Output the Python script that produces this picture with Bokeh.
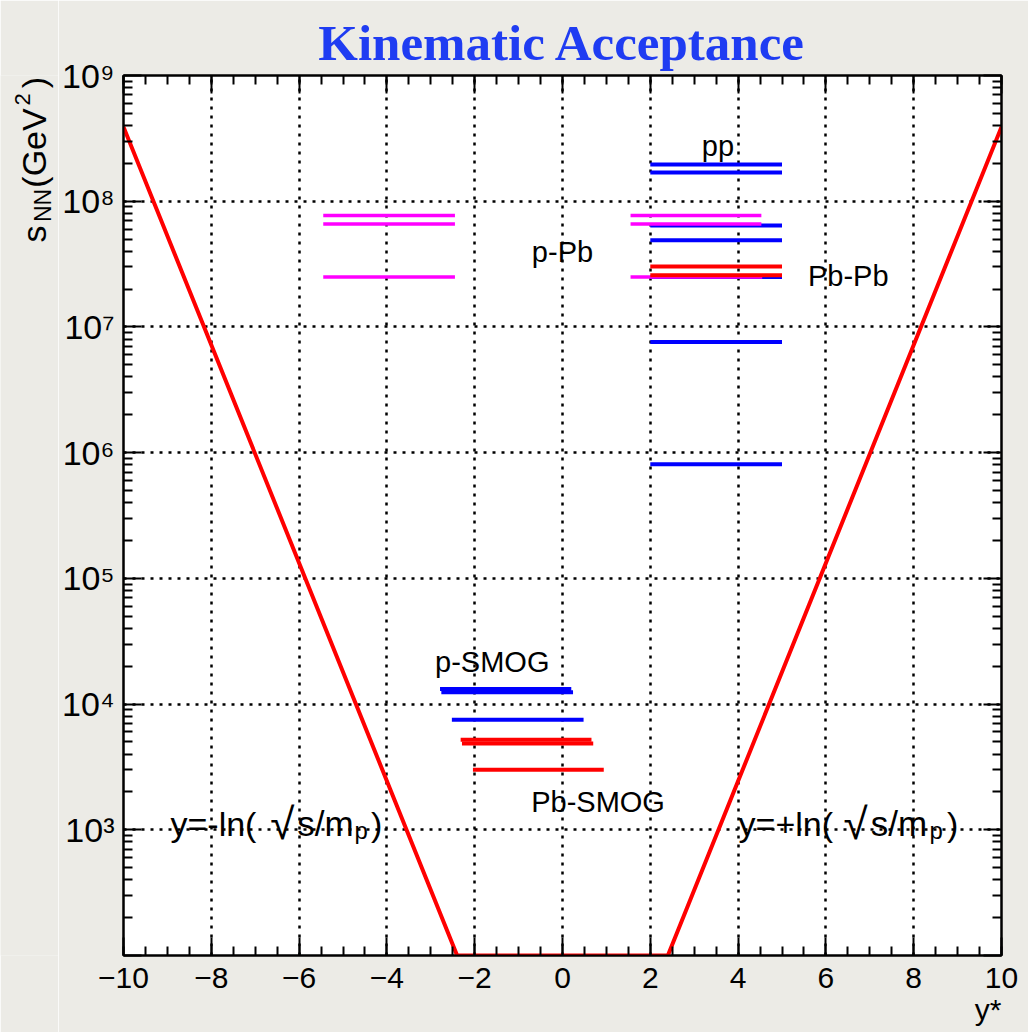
import math
from bokeh.plotting import figure
from bokeh.layouts import row
from bokeh.models import FixedTicker, LinearAxis, LogAxis, Label, CustomJSTickFormatter, Range1d, Title
from bokeh.embed import file_html
from bokeh.resources import INLINE
from bokeh.core.properties import value

# ---------------- data ----------------
x_ticks = [-10, -8, -6, -4, -2, 0, 2, 4, 6, 8, 10]
y_tick_values = [100, 1000, 10000, 100000, 1000000, 10000000, 100000000, 1000000000]
y_tick_labels = ["", "10³", "10⁴", "10⁵", "10⁶", "10⁷", "10⁸", "10⁹"]

# kinematic limit y = +-ln(sqrt(s)/m_p), read at its end points
acc_y = [-10.0, -2.4, 2.4, 10.0]
acc_s = [3.9e8, 100, 100, 3.9e8]

# pp collider energies (blue), y* from 2 to 5
pp_y0 = [2.0, 2.0, 2.0, 2.0, 2.0, 2.0, 2.0]
pp_y1 = [5.0, 5.0, 5.0, 5.0, 5.0, 5.0, 5.0]
pp_s = [1.96e8, 1.69e8, 6.4e7, 4.9e7, 2.5e7, 7.6e6, 8.1e5]

# Pb-Pb (red)
pbpb_y0 = [2.0, 2.0]
pbpb_y1 = [5.0, 5.0]
pbpb_s = [3.02e7, 2.58e7]

# p-Pb / Pb-p (magenta)
ppb_y0 = [1.55, 1.55, 1.55, -5.45, -5.45, -5.45]
ppb_y1 = [4.53, 4.53, 4.55, -2.45, -2.45, -2.45]
ppb_s = [7.7e7, 6.6e7, 2.5e7, 7.7e7, 6.6e7, 2.5e7]

# p-SMOG (blue)
psmog_y0 = [-2.79, -2.76, -2.52]
psmog_y1 = [0.20, 0.24, 0.48]
psmog_s = [1.32e4, 1.24e4, 7.5e3]

# Pb-SMOG (red)
pbsmog_y0 = [-2.32, -2.29, -2.04]
pbsmog_y1 = [0.66, 0.70, 0.94]
pbsmog_s = [5.2e3, 4.85e3, 3.0e3]

# text labels
lab_text = ["pp", "p-Pb", "Pb-Pb", "p-SMOG", "Pb-SMOG"]
lab_x = [3.54, 0.0, 6.51, -1.6, 0.81]
lab_s = [2.77e8, 3.93e7, 2.52e7, 2.15e4, 1.66e3]

BLUE = "#0000ff"
RED = "#ff0000"
MAG = "#ff00ff"
BG = "#ecebe6"
SANS = "Liberation Sans"

LW = 58  # width of the strip that holds the y-axis title
FRAME_TOP, FRAME_BOTTOM = 75, 955  # the row aligns both frames vertically

# ---------------- left strip with the y-axis title ----------------
lf = figure(width=LW, height=1032, x_range=Range1d(0, LW),
            y_range=Range1d(1032 - FRAME_BOTTOM, 1032 - FRAME_TOP),
            output_backend="svg", toolbar_location=None, min_border=0, title=None,
            x_axis_location=None, y_axis_location=None)
lf.outline_line_color = None
lf.xgrid.visible = False
lf.ygrid.visible = False
lf.background_fill_color = BG
lf.border_fill_color = BG

# rotated pieces of "s_NN (GeV^2)", each anchored at its own centre
yt_text = ["s", "NN", "(GeV", "2", ")"]
yt_x = [33, 42.5, 33, 22, 33]
yt_y = [798.5, 827, 884.5, 933, 950]
yt_size = ["34px", "23px", "34px", "22px", "34px"]
lf.text(x=yt_x, y=yt_y, text=yt_text, angle=math.pi / 2, text_font=value(SANS),
        text_font_size=yt_size, text_align="center", text_baseline="middle",
        text_color="black")

# ---------------- main plot ----------------
p = figure(width=1028 - LW, height=1032,
           x_range=Range1d(-10, 10), y_range=Range1d(100, 1e9),
           y_axis_type="log", output_backend="svg", toolbar_location=None,
           min_border_left=123 - LW, min_border_right=27,
           min_border_top=FRAME_TOP, min_border_bottom=1032 - FRAME_BOTTOM)

p.background_fill_color = "white"
p.border_fill_color = BG
p.outline_line_color = "black"
p.outline_line_width = 2

p.title.text = "Kinematic Acceptance"
p.title.align = "center"
p.title.text_font = "Liberation Serif"
p.title.text_font_style = "bold"
p.title.text_font_size = "51px"
p.title.text_color = "#1f3cf2"
p.title.standoff = 10

x_minor = [-10 + 0.5 * i for i in range(41)]
y_minor = [m * 10 ** e for e in range(2, 9) for m in range(2, 10)]

bottom = p.below[0]
left = p.left[0]
top = LinearAxis()
right = LogAxis()
p.add_layout(top, "above")
p.add_layout(right, "right")

for ax in [bottom, top]:
    ax.ticker = FixedTicker(ticks=x_ticks, minor_ticks=x_minor)
for ax in [left, right]:
    ax.ticker = FixedTicker(ticks=y_tick_values, minor_ticks=y_minor)

for ax in [bottom, top, left, right]:
    ax.major_tick_in = 18
    ax.major_tick_out = 0
    ax.minor_tick_in = 9
    ax.minor_tick_out = 0
    ax.major_tick_line_width = 2
    ax.minor_tick_line_width = 2
    ax.major_tick_line_color = "black"
    ax.minor_tick_line_color = "black"
    ax.axis_line_width = 2
    ax.axis_line_color = "black"

for ax in [top, right]:
    ax.formatter = CustomJSTickFormatter(code="return ''")
    ax.major_label_standoff = 0
    ax.major_label_text_font_size = "1px"

bottom.major_label_text_font = SANS
bottom.major_label_text_font_size = "30px"
bottom.major_label_text_color = "black"
bottom.major_label_standoff = 12

left.major_label_overrides = {v: t for v, t in zip(y_tick_values, y_tick_labels)}
left.major_label_text_font = SANS
left.major_label_text_font_size = "34px"
left.major_label_text_color = "black"
left.major_label_standoff = 9

# x-axis title, right aligned under the axis
p.add_layout(Title(text="y*", align="right", text_font=SANS, text_font_style="normal",
                   text_font_size="30px", text_color="black", standoff=0), "below")

# grid
p.xgrid.ticker = FixedTicker(ticks=x_ticks[1:-1])
p.ygrid.ticker = FixedTicker(ticks=y_tick_values[1:-1])
for g in [p.xgrid[0], p.ygrid[0]]:
    g.grid_line_color = "black"
    g.grid_line_dash = "3 6"
    g.grid_line_width = 2.5
    g.grid_line_alpha = 1.0

# kinematic limit
p.line(acc_y, acc_s, line_color=RED, line_width=4)

# segments
p.segment(pp_y0, pp_s, pp_y1, pp_s, line_color=BLUE, line_width=4)
p.segment(psmog_y0, psmog_s, psmog_y1, psmog_s, line_color=BLUE, line_width=4)
p.segment(ppb_y0, ppb_s, ppb_y1, ppb_s, line_color=MAG, line_width=3.5)
p.segment(pbpb_y0, pbpb_s, pbpb_y1, pbpb_s, line_color=RED, line_width=4)
p.segment(pbsmog_y0, pbsmog_s, pbsmog_y1, pbsmog_s, line_color=RED, line_width=4)

p.text(x=lab_x, y=lab_s, text=lab_text, text_font=value(SANS), text_font_size="29px",
       text_align="center", text_baseline="alphabetic", text_color="black")

# formula labels y = -ln(sqrt(s)/m_p) and y = +ln(sqrt(s)/m_p)
def lab(x, y, t, size="34px"):
    p.add_layout(Label(x=x, y=y, text=t, text_font=SANS, text_font_size=size,
                       text_color="black", text_baseline="alphabetic", text_align="left"))

base_s = 1.12e3
sub_s = 9.95e2
for (x1, x2, x3, x4, x5, sign) in [(-8.93, -6.66, -6.04, -4.74, -4.36, "-"),
                                   (4.01, 6.40, 7.02, 8.36, 8.76, "+")]:
    lab(x1, base_s, "y=" + sign + "ln(")
    lab(x2, base_s, "√", size="44px")
    lab(x3, base_s, "s/m", size="35px")
    lab(x4, sub_s, "p", size="24px")
    lab(x5, base_s, ")")

layout = row(lf, p)
open("out.html", "w").write(file_html(layout, INLINE))
